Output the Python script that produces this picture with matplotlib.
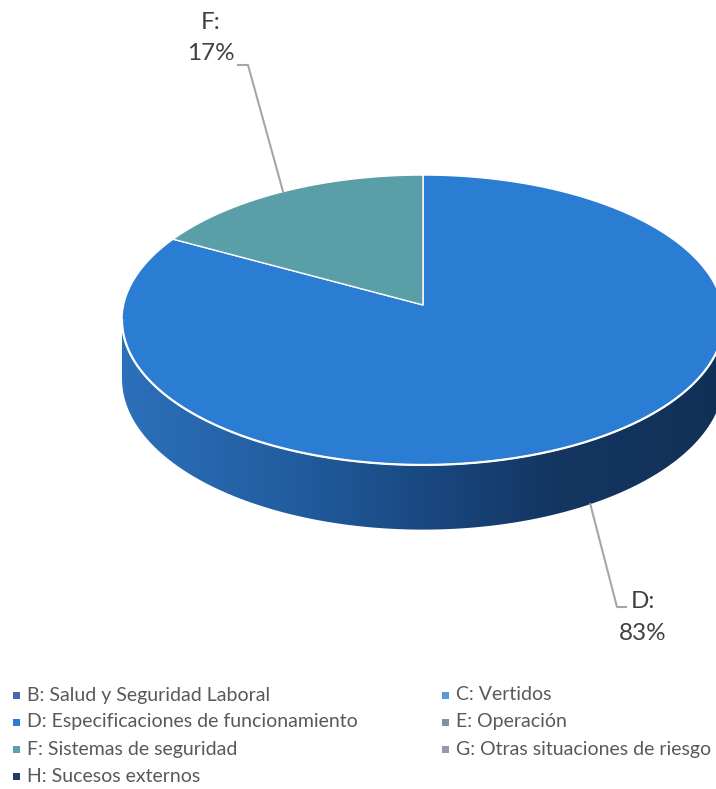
import numpy as np
import matplotlib
matplotlib.use("Agg")
import matplotlib.pyplot as plt
from matplotlib.patches import Polygon, Rectangle

# ---------------- data ----------------
codes = ["B", "C", "D", "E", "F", "G", "H"]
categories = ["B: Salud y Seguridad Laboral", "C: Vertidos",
              "D: Especificaciones de funcionamiento", "E: Operación",
              "F: Sistemas de seguridad", "G: Otras situaciones de riesgo",
              "H: Sucesos externos"]
values = [0, 0, 83, 0, 17, 0, 0]
top_colors = ["#4767B0", "#5B9BD5", "#2A7DD3", "#7F8FAA", "#5A9EA8", "#A095A8", "#263B69"]
legend_colors = ["#4767B0", "#5B9BD5", "#2A7DD3", "#7F8FAA", "#5AA3AD", "#A095A8", "#263B69"]

plt.rcParams['font.family'] = ['Lato', 'DejaVu Sans']

fig = plt.figure(figsize=(7.16, 7.89), dpi=100)
ax = fig.add_axes([0, 0, 1, 1])

# ---------------- 3D pie geometry (layout) ----------------
CX, CY = 423.0, 305.0
RA, RB = 299.4, 143.4
KP = 0.1034          # perspective factor
DEPTH = 58.0


def proj(phi_deg, drop=0.0):
    phi = np.radians(phi_deg)
    u = np.sin(phi)
    v = -np.cos(phi)
    w = 1 - KP * v
    return CX + RA * u / w, CY + RB * v / w + drop / w


total = float(sum(values))
angles = np.cumsum([0] + [v / total * 360 for v in values])
vis0 = np.degrees(np.arccos(-KP))
vis1 = 360 - vis0

# side gradient
grad_x = np.linspace(100, 740, 400)
stops_x = [122, 300, 430, 560, 724]
stops_c = np.array([[0.17, 0.44, 0.73], [0.13, 0.36, 0.62], [0.10, 0.28, 0.50],
                    [0.075, 0.21, 0.38], [0.07, 0.19, 0.34]])
img = np.stack([np.interp(grad_x, stops_x, stops_c[:, c]) for c in range(3)], axis=-1)
img = np.repeat(img[None, :, :], 2, axis=0)

for i, v in enumerate(values):
    if v <= 0:
        continue
    s, e = angles[i], angles[i + 1]
    lo, hi = max(s, vis0), min(e, vis1)
    if lo < hi:
        ph = np.linspace(lo, hi, 200)
        tx, ty = proj(ph)
        bx, by = proj(ph[::-1], DEPTH)
        pts = np.column_stack([np.concatenate([tx, bx]), np.concatenate([ty, by])])
        side = Polygon(pts, closed=True, facecolor='none', edgecolor='none')
        ax.add_patch(side)
        im = ax.imshow(img, extent=[100, 740, 600, 250], aspect='auto', zorder=1)
        im.set_clip_path(side)

for i, v in enumerate(values):
    if v <= 0:
        continue
    s, e = angles[i], angles[i + 1]
    ph = np.linspace(s, e, 300)
    rx, ry = proj(ph)
    pts = np.column_stack([np.concatenate([[CX], rx]), np.concatenate([[CY], ry])])
    ax.add_patch(Polygon(pts, closed=True, facecolor=top_colors[i],
                         edgecolor='white', linewidth=1.0, zorder=2))

# white rim line along the front
ph = np.linspace(vis0, vis1, 300)
rx, ry = proj(ph)
ax.plot(rx, ry, color='white', lw=1.6, zorder=3)

# ---------------- labels ----------------
label_pos = {"D": (643, 602, 643, 633, (617, 607), (626, 607)),
             "F": (211, 22, 211, 53, (248, 65), (238, 65))}
for i, v in enumerate(values):
    if v <= 0:
        continue
    mid = (angles[i] + angles[i + 1]) / 2
    c = codes[i]
    x1, y1, x2, y2, elbow, end = label_pos[c]
    front = vis0 < mid < vis1
    sx, sy = proj(mid, DEPTH if front else 0.0)
    ax.plot([sx, elbow[0], end[0]], [sy, elbow[1], end[1]], color='#A6A6A6', lw=1.5, zorder=4)
    ax.text(x1, y1, f"{c}:", ha='center', va='center', fontsize=17.5, color='#404040')
    ax.text(x2, y2, f"{v}%", ha='center', va='center', fontsize=17.5, color='#404040')

# ---------------- legend ----------------
col_x = [16, 445]
row_y0, row_dy = 695, 27
for i, (lab, col) in enumerate(zip(categories, legend_colors)):
    r, cidx = divmod(i, 2)
    mx = col_x[cidx]
    my = row_y0 + r * row_dy
    ax.add_patch(Rectangle((mx - 3.5, my - 3.5), 7, 7, facecolor=col, edgecolor='none'))
    ax.text(mx + 11, my, lab, ha='left', va='center', fontsize=14, color='#595959')

ax.set_xlim(0, 716)
ax.set_ylim(789, 0)
ax.axis('off')
fig.savefig("out.png", dpi=100)
